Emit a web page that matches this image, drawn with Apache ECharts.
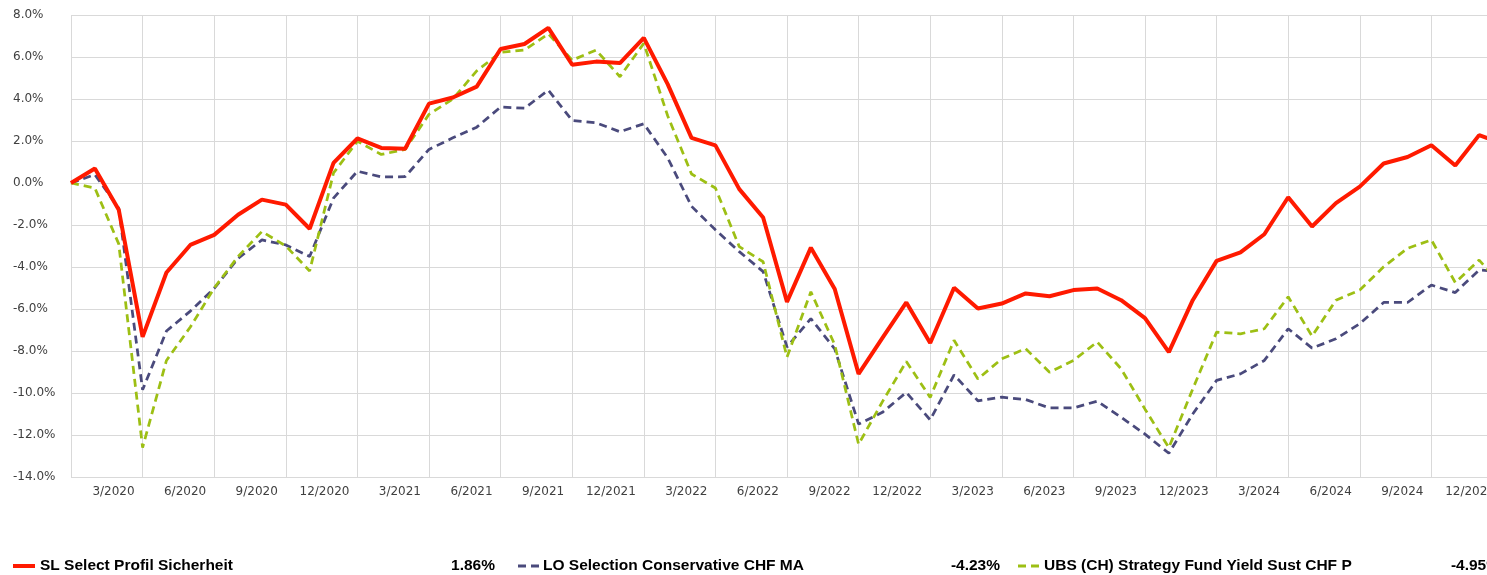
<!DOCTYPE html>
<html>
<head>
<meta charset="utf-8">
<script src="https://cdn.jsdelivr.net/npm/echarts@6/dist/echarts.min.js"></script>
<style>
html,body{margin:0;padding:0;background:#fff;overflow:hidden;width:1487px;height:575px;}
#chart{width:1520px;height:575px;}
</style>
</head>
<body>
<div id="chart"></div>
<script>
const categories = [
  '12/2019',
  '1/2020','2/2020','3/2020','4/2020','5/2020','6/2020','7/2020','8/2020','9/2020','10/2020','11/2020','12/2020',
  '1/2021','2/2021','3/2021','4/2021','5/2021','6/2021','7/2021','8/2021','9/2021','10/2021','11/2021','12/2021',
  '1/2022','2/2022','3/2022','4/2022','5/2022','6/2022','7/2022','8/2022','9/2022','10/2022','11/2022','12/2022',
  '1/2023','2/2023','3/2023','4/2023','5/2023','6/2023','7/2023','8/2023','9/2023','10/2023','11/2023','12/2023',
  '1/2024','2/2024','3/2024','4/2024','5/2024','6/2024','7/2024','8/2024','9/2024','10/2024','11/2024','12/2024'
];

const seriesNames = [
  'SL Select Profil Sicherheit',
  'LO Selection Conservative CHF MA',
  'UBS (CH) Strategy Fund Yield Sust CHF P'
];

const legendValues = ['1.86%', '-4.23%', '-4.95%'];

const slSelect = [
  0.00, 0.69, -1.27, -7.33, -4.26, -2.95, -2.47, -1.51, -0.79, -1.03, -2.18, 0.96, 2.12,
  1.67, 1.63, 3.78, 4.07, 4.59, 6.38, 6.62, 7.39, 5.63, 5.78, 5.71, 6.91,
  4.71, 2.15, 1.79, -0.29, -1.64, -5.66, -3.08, -5.05, -9.09, -7.38, -5.69, -7.62,
  -4.99, -5.98, -5.74, -5.26, -5.39, -5.10, -5.02, -5.58, -6.43, -8.05, -5.58, -3.71,
  -3.30, -2.44, -0.68, -2.07, -0.96, -0.17, 0.93, 1.24, 1.80, 0.83, 2.28, 1.86
];

const loSelection = [
  0.00, 0.40, -1.20, -9.85, -7.05, -6.10, -5.02, -3.59, -2.71, -2.95, -3.50, -0.72, 0.56,
  0.29, 0.30, 1.60, 2.15, 2.66, 3.62, 3.56, 4.42, 2.98, 2.87, 2.44, 2.82,
  1.20, -1.11, -2.23, -3.27, -4.22, -7.81, -6.46, -7.90, -11.48, -10.92, -9.97, -11.28,
  -9.14, -10.37, -10.20, -10.31, -10.71, -10.71, -10.39, -11.16, -11.96, -12.87, -11.00, -9.40,
  -9.09, -8.45, -6.94, -7.86, -7.42, -6.70, -5.69, -5.69, -4.86, -5.22, -4.14, -4.23
];

const ubsYield = [
  0.00, -0.24, -2.90, -12.60, -8.45, -6.86, -5.00, -3.50, -2.31, -3.00, -4.19, 0.48, 1.99,
  1.36, 1.60, 3.27, 4.00, 5.34, 6.22, 6.33, 7.10, 5.85, 6.33, 5.06, 6.65,
  3.20, 0.43, -0.24, -3.03, -3.75, -8.29, -5.18, -7.70, -12.44, -10.41, -8.50, -10.21,
  -7.49, -9.33, -8.37, -7.89, -9.01, -8.45, -7.57, -8.85, -10.77, -12.60, -9.81, -7.10,
  -7.18, -6.94, -5.42, -7.29, -5.58, -5.10, -3.99, -3.11, -2.71, -4.74, -3.67, -4.95
];

const yMin = -14, yMax = 8, yStep = 2;

const colors = ['#ff1a00', '#4a4a7c', '#9dbf14'];
const widths = [4, 2.75, 2.75];
const dashes = [null, [8, 5], [8, 5]];

const chart = echarts.init(document.getElementById('chart'), null, {renderer: 'canvas'});
const gridColor = '#d9d9d9';
const labelColor = '#404040';
const quarterly = function (i) { return i % 3 === 0; };

// legend built as graphic elements (line sample + name + final value)
const legendFont = 'bold 15.5px "Liberation Sans Narrow", "Arial Narrow", "Liberation Sans", sans-serif';
const legendIconX = [13, 518, 1018];
const legendTextX = [40, 543, 1044];
const legendValueRight = [495, 1000, 1500];
const legendY = 566;
const legendGraphics = [];
seriesNames.forEach(function (name, k) {
  legendGraphics.push({
    type: 'line',
    shape: { x1: legendIconX[k], y1: legendY, x2: legendIconX[k] + 22, y2: legendY },
    style: { stroke: colors[k], lineWidth: k === 0 ? 4 : 3, lineDash: dashes[k] || null }
  });
  legendGraphics.push({
    type: 'text', x: legendTextX[k], y: legendY,
    style: { text: name, font: legendFont, fill: '#000', align: 'left', verticalAlign: 'middle', textAlign: 'left', textVerticalAlign: 'middle' }
  });
  legendGraphics.push({
    type: 'text', x: legendValueRight[k], y: legendY,
    style: { text: legendValues[k], font: legendFont, fill: '#000', align: 'right', verticalAlign: 'middle', textAlign: 'right', textVerticalAlign: 'middle' }
  });
});

const option = {
  animation: false,
  backgroundColor: '#ffffff',
  grid: { left: 71, top: 15, right: 17, bottom: 98, containLabel: false },
  graphic: legendGraphics,
  xAxis: {
    type: 'category',
    data: categories,
    boundaryGap: false,
    axisLine: { show: true, lineStyle: { color: gridColor, width: 1 } },
    axisTick: { show: true, length: 9, interval: function (i) { return quarterly(i); }, lineStyle: { color: gridColor } },
    splitLine: { show: true, interval: function (i) { return quarterly(i); }, lineStyle: { color: gridColor, width: 1 } },
    axisLabel: {
      interval: function (i) { return i > 0 && quarterly(i); },
      showMaxLabel: true,
      align: 'right',
      padding: [0, 8, 0, 0],
      margin: 9,
      color: labelColor,
      fontFamily: 'DejaVu Sans, Verdana, sans-serif',
      fontSize: 12
    }
  },
  yAxis: {
    type: 'value',
    min: yMin,
    max: yMax,
    interval: yStep,
    axisLine: { show: false },
    axisTick: { show: false },
    splitLine: { show: true, lineStyle: { color: gridColor, width: 1 } },
    axisLabel: {
      align: 'left',
      margin: 58,
      color: labelColor,
      fontFamily: 'DejaVu Sans, Verdana, sans-serif',
      fontSize: 12,
      formatter: function (v) { return v.toFixed(1) + '%'; }
    }
  },
  series: [
    {
      name: seriesNames[0], type: 'line', data: slSelect, symbol: 'none',
      lineStyle: { color: colors[0], width: widths[0], type: 'solid' }, z: 3
    },
    {
      name: seriesNames[1], type: 'line', data: loSelection, symbol: 'none',
      lineStyle: { color: colors[1], width: widths[1], type: dashes[1] }, z: 2
    },
    {
      name: seriesNames[2], type: 'line', data: ubsYield, symbol: 'none',
      lineStyle: { color: colors[2], width: widths[2], type: dashes[2] }, z: 2
    }
  ]
};
chart.setOption(option);
</script>
</body>
</html>
